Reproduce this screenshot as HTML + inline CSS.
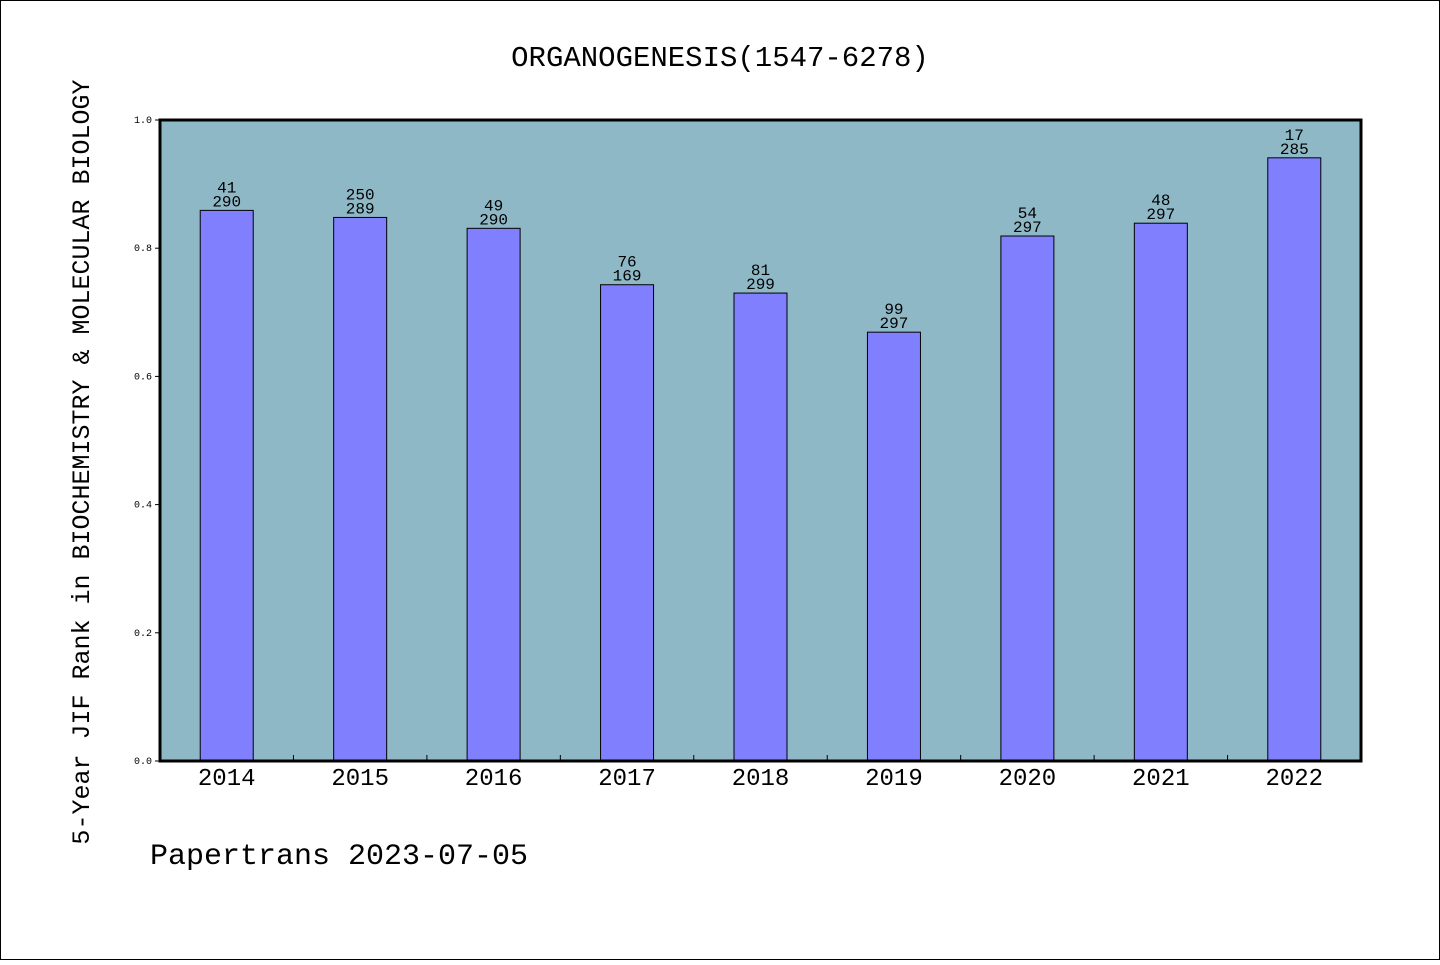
<!DOCTYPE html>
<html><head><meta charset="utf-8"><style>
body{margin:0;background:#fff}
svg text{font-family:"Liberation Mono","DejaVu Sans Mono",monospace;fill:#000}
</style></head><body>
<svg width="1440" height="960" id="chart">
<rect x="0.5" y="0.5" width="1439" height="959" fill="#fff" stroke="#000"/>
<text x="720" y="66" font-size="29" text-anchor="middle">ORGANOGENESIS(1547-6278)</text>
<text transform="translate(89,462) rotate(-90)" font-size="25" text-anchor="middle">5-Year JIF Rank in BIOCHEMISTRY &amp; MOLECULAR BIOLOGY</text>
<text x="150" y="864" font-size="30">Papertrans 2023-07-05</text>
<g id="plot"></g>
</svg>
<script>
const categories=["2014","2015","2016","2017","2018","2019","2020","2021","2022"];
const values=[0.859,0.848,0.831,0.743,0.730,0.669,0.819,0.839,0.941];
const ranks=["41","250","49","76","81","99","54","48","17"];
const totals=["290","289","290","169","299","297","297","297","285"];
const yTicks=[0,0.2,0.4,0.6,0.8,1.0];
const yTickLabels=["0.0","0.2","0.4","0.6","0.8","1.0"];
const X0=160,X1=1361,Y0=761,Y1=120;
const ns="http://www.w3.org/2000/svg";
const g=document.getElementById('plot');
function y(v){return Y0-(Y0-Y1)*v;}
const step=(X1-X0)/categories.length;
function xc(i){return X0+step*(i+0.5);}
function mk(t,a,txt){const e=document.createElementNS(ns,t);for(const k in a)e.setAttribute(k,a[k]);if(txt!==undefined)e.textContent=txt;g.appendChild(e);return e;}
let bg=mk('rect',{x:X0,y:Y1,width:X1-X0,height:Y0-Y1,fill:'#8fb8c7'});


const bw=53;
categories.forEach((c,i)=>{
  const b=mk('rect',{x:xc(i)-bw/2,y:y(values[i]),width:bw,height:Y0-y(values[i]),fill:'#8080ff',stroke:'#000','stroke-width':1});
  
  
  const t1=mk('text',{x:xc(i),y:y(values[i])-18,'font-size':16,'text-anchor':'middle'},ranks[i]);
  
  
  const t2=mk('text',{x:xc(i),y:y(values[i])-4,'font-size':16,'text-anchor':'middle'},totals[i]);
  
  
  const xl=mk('text',{x:xc(i),y:785,'font-size':24,'text-anchor':'middle'},c);
  
  
  if(i>0){const tk=mk('line',{x1:X0+step*i,x2:X0+step*i,y1:Y0,y2:Y0-6,stroke:'#000'});
  
  }
});
yTicks.forEach((v,i)=>{
  const tk=mk('line',{x1:X0-5,x2:X0,y1:y(v),y2:y(v),stroke:'#000'});
  
  
  const tl=mk('text',{x:152,y:y(v)+3,'font-size':10,'text-anchor':'end'},yTickLabels[i]);
  
  
});
const fr=mk('rect',{x:X0,y:Y1,width:X1-X0,height:Y0-Y1,fill:'none',stroke:'#000','stroke-width':3});


</script>
</body></html>
